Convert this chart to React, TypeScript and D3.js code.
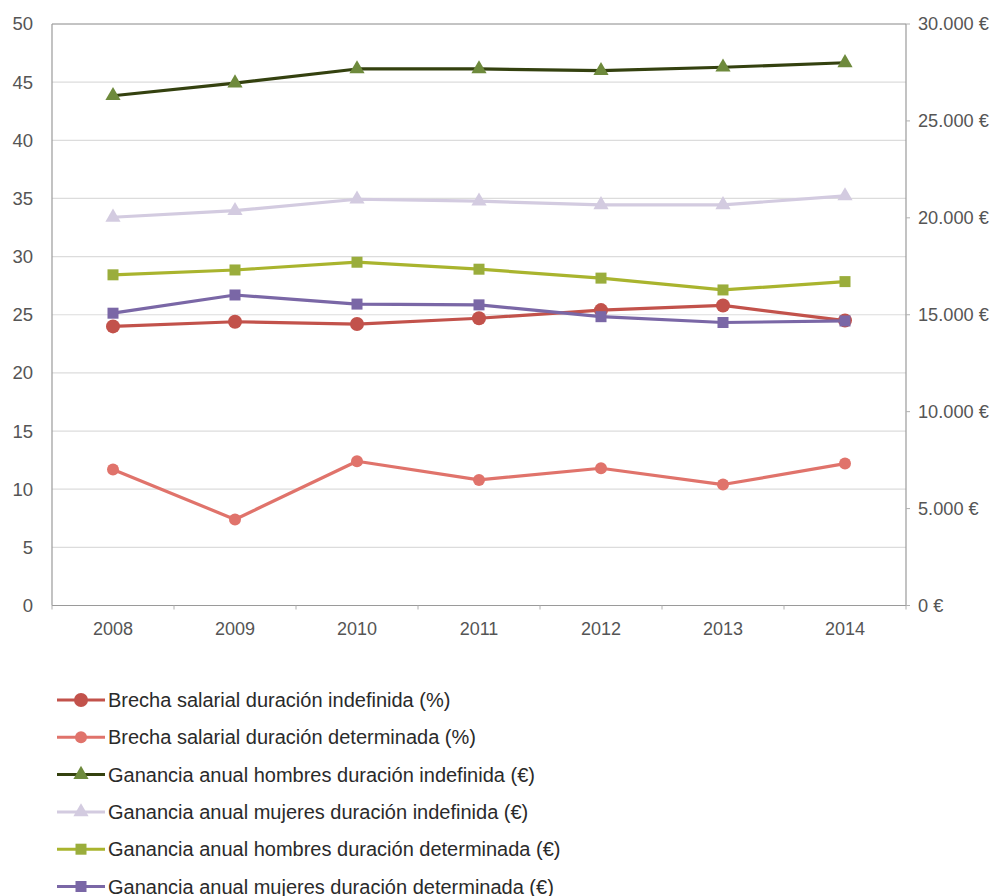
import React from "react";
import * as d3 from "d3";

const years = ["2008", "2009", "2010", "2011", "2012", "2013", "2014"];

// Left axis (%)
const brechaIndefinida = [24.0, 24.4, 24.2, 24.7, 25.4, 25.8, 24.5];
const brechaDeterminada = [11.7, 7.4, 12.4, 10.8, 11.8, 10.4, 12.2];

// Right axis (€)
const hombresIndefinida = [26300, 26950, 27680, 27680, 27590, 27770, 28000];
const mujeresIndefinida = [20030, 20370, 20960, 20860, 20670, 20670, 21130];
const hombresDeterminada = [17060, 17310, 17710, 17350, 16890, 16280, 16710];
const mujeresDeterminada = [15080, 16020, 15550, 15510, 14900, 14600, 14680];

const leftTicks = [0, 5, 10, 15, 20, 25, 30, 35, 40, 45, 50];
const rightTicks = [0, 5000, 10000, 15000, 20000, 25000, 30000];

type Marker = "circle" | "triangle" | "square";
interface Series {
  name: string;
  values: number[];
  axis: "left" | "right";
  line: string;
  fill: string;
  marker: Marker;
  size: number;
}

const series: Series[] = [
  { name: "Brecha salarial duración indefinida (%)", values: brechaIndefinida, axis: "left", line: "#c2524b", fill: "#c2524b", marker: "circle", size: 7 },
  { name: "Brecha salarial duración determinada (%)", values: brechaDeterminada, axis: "left", line: "#e0736b", fill: "#e0736b", marker: "circle", size: 6 },
  { name: "Ganancia anual hombres duración indefinida (€)", values: hombresIndefinida, axis: "right", line: "#34410f", fill: "#6e8a3c", marker: "triangle", size: 1 },
  { name: "Ganancia anual mujeres duración indefinida (€)", values: mujeresIndefinida, axis: "right", line: "#d3cbe0", fill: "#d3cbe0", marker: "triangle", size: 1 },
  { name: "Ganancia anual hombres duración determinada (€)", values: hombresDeterminada, axis: "right", line: "#a9b42e", fill: "#9aad3c", marker: "square", size: 1 },
  { name: "Ganancia anual mujeres duración determinada (€)", values: mujeresDeterminada, axis: "right", line: "#7a67a6", fill: "#7a67a6", marker: "square", size: 1 },
];

const W = 995;
const H = 896;
const left = 52;
const right = 906;
const top = 24;
const bottom = 605.5;
const font = "'Liberation Sans', Arial, sans-serif";

function MarkerShape({ kind, x, y, fill, r }: { kind: Marker; x: number; y: number; fill: string; r: number }) {
  if (kind === "circle") return <circle cx={x} cy={y} r={r} fill={fill} />;
  if (kind === "square") return <rect x={x - 5.5} y={y - 5.5} width={11} height={11} fill={fill} />;
  const sym = d3.symbol().type(d3.symbolTriangle).size(100)();
  return <path d={sym || ""} transform={`translate(${x},${y})`} fill={fill} />;
}

export default function App() {
  const x = d3.scaleBand<string>().domain(years).range([left, right]);
  const yL = d3.scaleLinear().domain([0, 50]).range([bottom, top]);
  const yR = d3.scaleLinear().domain([0, 30000]).range([bottom, top]);
  const cx = (yr: string) => (x(yr) as number) + x.bandwidth() / 2;
  const fmtEuro = (v: number) => (v === 0 ? "0 €" : d3.format(",")(v).replace(/,/g, ".") + " €");

  const legendX = 57;
  const legendY0 = 700;
  const legendStep = 37.3;

  return (
    <svg width={W} height={H} style={{ position: "absolute", left: 0, top: 0, background: "#fff" }} fontFamily={font}>
      <rect width={W} height={H} fill="#fff" />
      {/* grid lines */}
      {leftTicks.map((t) => (
        <line key={t} x1={left} x2={right} y1={yL(t)} y2={yL(t)} stroke="#dcdcdc" strokeWidth={1.2} />
      ))}
      {/* frame */}
      <line x1={left} x2={right} y1={top} y2={top} stroke="#9a9a9a" strokeWidth={1} />
      <line x1={left} x2={left} y1={top} y2={bottom} stroke="#9a9a9a" strokeWidth={1.2} />
      <line x1={right} x2={right} y1={top} y2={bottom} stroke="#9a9a9a" strokeWidth={1.2} />
      <line x1={left} x2={right} y1={bottom} y2={bottom} stroke="#9a9a9a" strokeWidth={1.2} />
      {/* x ticks at band edges */}
      {years.concat(["end"]).map((yr, i) => {
        const xx = left + i * x.bandwidth();
        return <line key={yr} x1={xx} x2={xx} y1={bottom} y2={bottom + 4} stroke="#b0b0b0" />;
      })}
      {/* left labels */}
      {leftTicks.map((t) => (
        <text key={t} x={33} y={yL(t)} dy="0.35em" textAnchor="end" fontSize={18.5} fill="#555">
          {t}
        </text>
      ))}
      {/* right ticks and labels */}
      {rightTicks.map((t) => (
        <g key={t}>
          <line x1={right} x2={right + 4} y1={yR(t)} y2={yR(t)} stroke="#b0b0b0" />
          <text x={918} y={yR(t)} dy="0.35em" fontSize={18.2} fill="#555">
            {fmtEuro(t)}
          </text>
        </g>
      ))}
      {/* x labels */}
      {years.map((yr) => (
        <text key={yr} x={cx(yr)} y={629} dy="0.35em" textAnchor="middle" fontSize={18} fill="#555">
          {yr}
        </text>
      ))}
      {/* series */}
      {series.map((s) => {
        const yS = s.axis === "left" ? yL : yR;
        const line = d3
          .line<number>()
          .x((_, i) => cx(years[i]))
          .y((v) => yS(v));
        return (
          <g key={s.name}>
            <path d={line(s.values) || ""} fill="none" stroke={s.line} strokeWidth={3.2} strokeLinejoin="round" />
            {s.values.map((v, i) => (
              <MarkerShape key={i} kind={s.marker} x={cx(years[i])} y={yS(v)} fill={s.fill} r={s.size} />
            ))}
          </g>
        );
      })}
      {/* legend */}
      {series.map((s, i) => {
        const ly = legendY0 + i * legendStep;
        return (
          <g key={s.name}>
            <line x1={legendX} x2={legendX + 48} y1={ly} y2={ly} stroke={s.line} strokeWidth={3} />
            <MarkerShape kind={s.marker} x={legendX + 24} y={ly} fill={s.fill} r={s.size} />
            <text x={legendX + 51} y={ly} dy="0.35em" fontSize={20} fill="#2a2a2a">
              {s.name}
            </text>
          </g>
        );
      })}
    </svg>
  );
}
